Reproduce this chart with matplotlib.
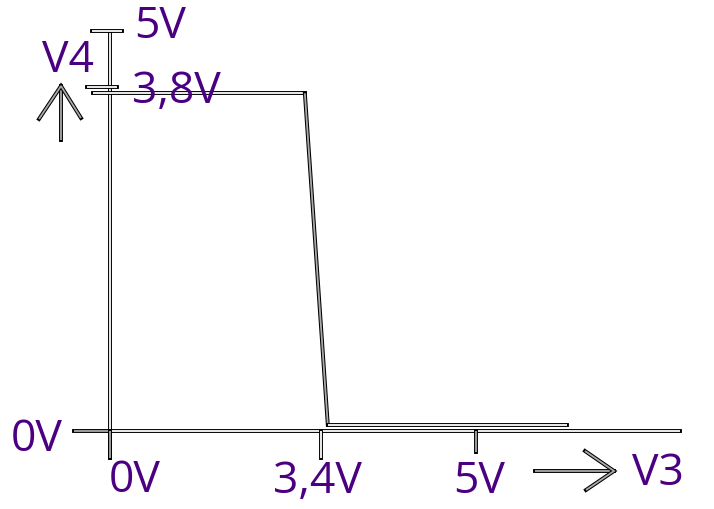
import numpy as np
import matplotlib
matplotlib.use("Agg")
import matplotlib.pyplot as plt
from matplotlib.transforms import Affine2D

# ---- data (volts) ----
v3_curve = [-0.27, 3.14, 3.47, 5.94]      # input voltage V3
v4_curve = [3.73, 3.73, 0.07, 0.07]       # output voltage V4
x_ticks = [0.0, 3.4, 5.0]
x_tick_labels = ["0V", "3,4V", "5V"]
y_ticks = [0.0, 3.8, 5.0]
y_tick_labels = ["0V", "3,8V", "5V"]
x_name = "V3"
y_name = "V4"

PURPLE = "#4B0082"
W, H = 714, 509

fig = plt.figure(figsize=(W / 100, H / 100), dpi=100)
ax = fig.add_axes([0, 0, 1, 1])
ax.set_axis_off()

# hand-drawn (non uniform) scales: volts -> canvas position
xk_v = np.array([-2.0, 0.0, 3.4, 5.0, 8.0])
xk_p = np.array([-14.0, 110.0, 321.0, 476.0, 767.0])
yk_v = np.array([-2.0, 0.0, 3.8, 5.0, 7.0])
yk_p = np.array([-103.0, 78.0, 422.0, 478.0, 571.0])

def fx(v):
    return np.interp(v, xk_v, xk_p)
def ix(p):
    return np.interp(p, xk_p, xk_v)
def fy(v):
    return np.interp(v, yk_v, yk_p)
def iy(p):
    return np.interp(p, yk_p, yk_v)

ax.set_xscale("function", functions=(fx, ix))
ax.set_yscale("function", functions=(fy, iy))
ax.set_xlim(ix(0.0), ix(W))
ax.set_ylim(iy(0.0), iy(H))

def dline(x, y, inner="white", transform=None, outer_lw=2.8, inner_lw=1.3):
    kw = {}
    if transform is not None:
        kw["transform"] = transform
    ax.plot(x, y, color="black", lw=outer_lw, solid_capstyle="projecting",
            solid_joinstyle="miter", **kw)
    ax.plot(x, y, color=inner, lw=inner_lw, solid_capstyle="butt",
            solid_joinstyle="miter", **kw)

# axes lines
dline([0, 0], [-0.30, 4.95])            # vertical axis
dline([0, 7.1], [0, 0])                 # horizontal axis
dline([-0.58, 0], [0, 0], inner="#aaaaaa")   # 0V tick (left)
dline([0, 0], [-0.30, 0], inner="#aaaaaa")
dline([x_ticks[1], x_ticks[1]], [-0.30, 0])
dline([x_ticks[2], x_ticks[2]], [-0.23, 0], inner="#aaaaaa")
dline([-0.29, 0.19], [y_ticks[2], y_ticks[2]])
dline([-0.37, 0.11], [y_ticks[1], y_ticks[1]])

# transfer curve
dline(v3_curve[:2], v4_curve[:2])
dline(v3_curve[1:3], v4_curve[1:3], inner="#aaaaaa")
dline(v3_curve[2:], v4_curve[2:])

# canvas transform (pixels, origin top-left) for annotations
pix = Affine2D().scale(1 / W, -1 / H).translate(0, 1) + fig.transFigure

# axis arrows
dline([61, 61], [140, 86], inner="#aaaaaa", transform=pix)
dline([39, 61, 81], [119, 86, 118], inner="#aaaaaa", transform=pix)
dline([535, 614], [471, 471], inner="#aaaaaa", transform=pix)
dline([585, 614, 586], [451, 471, 490], inner="#aaaaaa", transform=pix)

tkw = dict(color=PURPLE, fontsize=32, family=["Open Sans", "DejaVu Sans"],
           transform=pix, va="baseline")
# tick labels
ax.text(37, 451, y_tick_labels[0], ha="center", **tkw)
ax.text(176, 103, y_tick_labels[1], ha="center", **tkw)
ax.text(160, 38, y_tick_labels[2], ha="center", **tkw)
ax.text(135, 492, x_tick_labels[0], ha="center", **tkw)
ax.text(317, 493, x_tick_labels[1], ha="center", **tkw)
ax.text(479, 493, x_tick_labels[2], ha="center", **tkw)
# axis names
ax.text(658, 485, x_name, ha="center", **tkw)
ax.text(68, 72, y_name, ha="center", **tkw)

fig.savefig("out.png", dpi=100, facecolor="white")
